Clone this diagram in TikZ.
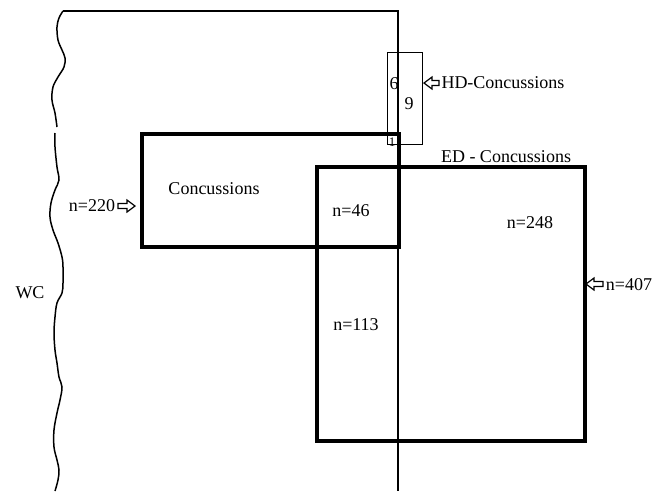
\documentclass[tikz,border=0pt]{standalone}
\usepackage{fontspec}
\setmainfont{Liberation Serif}
\begin{document}
\begin{tikzpicture}[x=1pt,y=-1pt,
  lbl/.style={inner sep=0pt, font=\fontsize{18}{21}\selectfont},
  small/.style={inner sep=0pt, font=\fontsize{13}{15}\selectfont},
  bigbox/.style={draw, line width=3.2pt},
  thinbox/.style={draw, line width=1pt},
  axis/.style={line width=1.4pt},
  wave/.style={line width=1.5pt},
  hollow/.style={line width=1.2pt, line join=miter}]
\useasboundingbox (0,0) rectangle (669,491);
% WC boundary
\coordinate (tl) at (63,11);
\coordinate (tr) at (398,11);
\coordinate (br) at (398,491);
\draw[axis] (tl) -- (tr) -- (br);
\draw[wave] plot[smooth, tension=0.6] coordinates {(63,11) (59,18) (57,27) (58,40) (62,50) (65,58) (64,67) (58,77) (53,87) (52,100) (55,113) (57,127)};
\draw[wave] plot[smooth, tension=0.6] coordinates {(55,133) (55,147) (57,167) (59,180) (55,190) (51,203) (50,217) (53,230) (58,243) (62,257) (63,267) (63,283) (62,293) (57,303) (55,317) (54,333) (55,350) (57,363) (59,377) (62,387) (60,400) (57,413) (54,430) (54,447) (57,460) (59,470) (58,480) (55,491)};
% boxes
\draw[thinbox] (387,52) rectangle (422,144);
\draw[bigbox] (142,134) rectangle (399,247);
\draw[bigbox] (317,167) rectangle (585,441);
% labels
\node[lbl] (wc) at (30,293) {WC};
\node[lbl] (n220) at (92,206) {n=220};
\node[lbl] (conc) at (214,189) {Concussions};
\node[lbl] (n46) at (351,211) {n=46};
\node[lbl] (n248) at (530,223) {n=248};
\node[lbl] (n113) at (356,325) {n=113};
\node[lbl] (n407) at (629,285) {n=407};
\node[lbl] (hd) at (503,83) {HD-Concussions};
\node[lbl] (ed) at (506,157) {ED - Concussions};
\node[lbl] (six) at (394,84) {6};
\node[lbl] (nine) at (409,104) {9};
\node[small] (one) at (392,142) {1};
% hollow arrows
\coordinate (a1) at (118,206);
\draw[hollow] (a1) ++(0,-2.5) -- ++(9,0) -- ++(0,-3.5) -- ++(8,6) -- ++(-8,6) -- ++(0,-3.5) -- ++(-9,0) -- cycle;
\coordinate (a2) at (439,83);
\draw[hollow] (a2) ++(0,-2.5) -- ++(-7,0) -- ++(0,-3.5) -- ++(-8,6) -- ++(8,6) -- ++(0,-3.5) -- ++(7,0) -- cycle;
\coordinate (a3) at (603,284);
\draw[hollow] (a3) ++(0,-2.5) -- ++(-9,0) -- ++(0,-3.5) -- ++(-8,6) -- ++(8,6) -- ++(0,-3.5) -- ++(9,0) -- cycle;
\end{tikzpicture}
\end{document}
